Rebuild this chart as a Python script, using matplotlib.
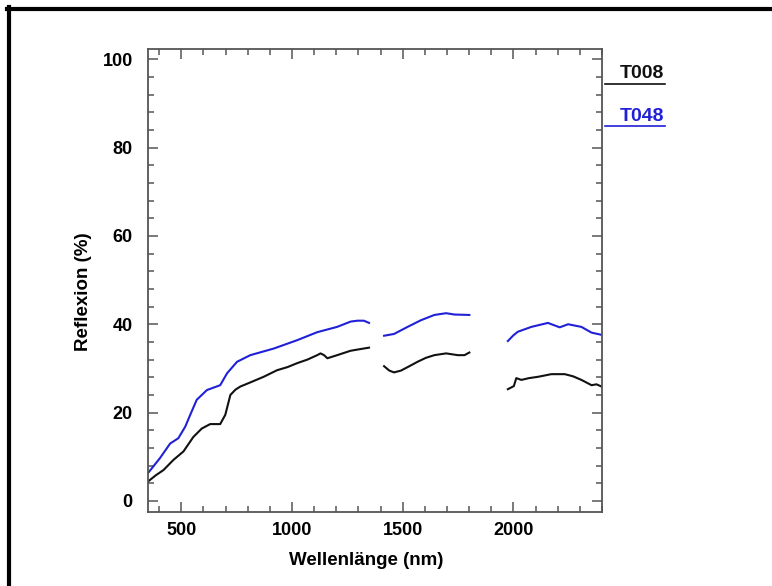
import numpy as np
import matplotlib
matplotlib.use("Agg")
import matplotlib.pyplot as plt
from matplotlib.lines import Line2D
from matplotlib.ticker import MultipleLocator

nan = np.nan

# Spektren (Lücken = Wasserdampfbanden)
t008_wl = [350, 385, 420, 465, 510, 555, 593, 631, 676, 699, 722, 745, 767, 820, 872,
           933, 980, 1024, 1070, 1114, 1129, 1145, 1160, 1204, 1265, 1300, 1348, nan,
           1416, 1440, 1461, 1492, 1530, 1567, 1605, 1643, 1696, 1749, 1779, 1801, nan,
           1975, 2002, 2013, 2036, 2070, 2111, 2171, 2232, 2270, 2307, 2353, 2375, 2398]
t008_refl = [4.4, 5.8, 7.0, 9.3, 11.2, 14.5, 16.4, 17.4, 17.4, 19.5, 24.0, 25.2, 25.9, 27.0, 28.1,
             29.6, 30.3, 31.2, 32.0, 33.0, 33.4, 33.0, 32.3, 33.0, 34.0, 34.3, 34.7, nan,
             30.5, 29.5, 29.1, 29.5, 30.5, 31.5, 32.4, 33.0, 33.4, 33.0, 33.0, 33.6, nan,
             25.3, 26.0, 27.8, 27.4, 27.8, 28.1, 28.7, 28.7, 28.2, 27.4, 26.2, 26.4, 25.9]

t048_wl = [350, 404, 450, 487, 518, 545, 570, 616, 676, 707, 752, 812, 918, 1024, 1114,
           1204, 1265, 1295, 1325, 1348, nan,
           1416, 1461, 1522, 1582, 1643, 1696, 1733, 1801, nan,
           1975, 2000, 2020, 2081, 2156, 2209, 2247, 2307, 2353, 2398]
t048_refl = [6.3, 9.7, 13.0, 14.2, 16.8, 20.0, 22.9, 25.1, 26.2, 28.9, 31.5, 33.0, 34.5, 36.4, 38.2,
             39.4, 40.6, 40.8, 40.8, 40.3, nan,
             37.4, 37.8, 39.4, 40.9, 42.1, 42.5, 42.2, 42.1, nan,
             36.2, 37.5, 38.3, 39.4, 40.3, 39.3, 40.0, 39.4, 38.1, 37.6]

series_names = ["T008", "T048"]
series_colors = ["#111111", "#2020d8"]

plt.rcParams["font.family"] = ["Liberation Sans", "DejaVu Sans"]
plt.rcParams["font.weight"] = "bold"

W, H = 772, 586
fig = plt.figure(figsize=(W / 100, H / 100), dpi=100)

# Achsenbereich in Pixeln: links 148, rechts 602, oben 49, unten 512
ax = fig.add_axes([148 / W, 1 - 512 / H, (602 - 148) / W, (512 - 49) / H])

ax.plot(t008_wl, t008_refl, color=series_colors[0], lw=1.5)
ax.plot(t048_wl, t048_refl, color=series_colors[1], lw=1.5)

ax.set_xlim(350, 2400)
ax.set_ylim(-2.5, 102.3)
ax.xaxis.set_major_locator(MultipleLocator(500))
ax.xaxis.set_minor_locator(MultipleLocator(100))
ax.yaxis.set_major_locator(MultipleLocator(20))
ax.yaxis.set_minor_locator(MultipleLocator(4))

spine_col = "#555555"
for s in ax.spines.values():
    s.set_color(spine_col)
    s.set_linewidth(1.3)
ax.tick_params(which="both", direction="in", top=True, right=True, color=spine_col, width=1.1)
ax.tick_params(which="major", length=7)
ax.tick_params(which="minor", length=4.3)
ax.tick_params(axis="y", labelsize=13, pad=11)
ax.tick_params(axis="x", labelsize=13, pad=7)

ax.set_xlabel("Wellenlänge (nm)", fontsize=13.5, fontweight="bold")
ax.xaxis.set_label_coords(0.48, -0.087)
fig.text(84 / W, 1 - 292 / H, "Reflexion (%)", rotation=90, fontsize=13.5, fontweight="bold",
         ha="center", va="center")

# Legende rechts neben dem Diagramm, unterstrichen
leg_y = [74, 116]
line_y = [84, 126]
for name, col, ty, ly in zip(series_names, series_colors, leg_y, line_y):
    fig.text(664 / W, 1 - ty / H, name, color=col, fontsize=14, fontweight="bold",
             ha="right", va="center")
    fig.add_artist(Line2D([605 / W, 665 / W], [1 - ly / H, 1 - ly / H], color=col, lw=1.2))

# schwarzer Rahmen (links und oben)
fig.add_artist(Line2D([8.5 / W, 8.5 / W], [0, 1 - 7 / H], color="black", lw=3))
fig.add_artist(Line2D([7 / W, 1], [1 - 8.5 / H, 1 - 8.5 / H], color="black", lw=3))

fig.savefig("out.png", dpi=100)
